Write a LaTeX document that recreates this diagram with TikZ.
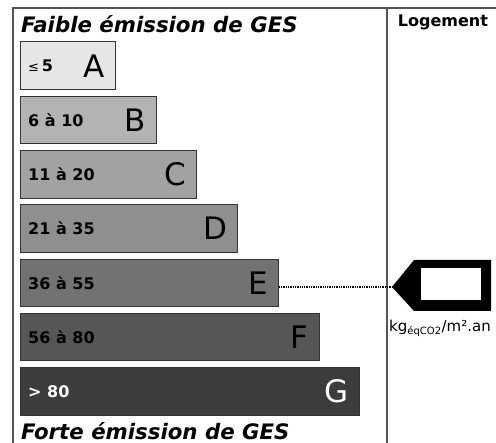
\documentclass[tikz,border=0pt]{standalone}
\usepackage{fontspec}
\setmainfont{DejaVu Sans}
\usetikzlibrary{positioning}
\definecolor{cA}{HTML}{E6E6E6}
\definecolor{cB}{HTML}{B3B3B3}
\definecolor{cC}{HTML}{A2A2A2}
\definecolor{cD}{HTML}{8F8F8F}
\definecolor{cE}{HTML}{727272}
\definecolor{cF}{HTML}{565656}
\definecolor{cG}{HTML}{3C3C3C}
\definecolor{edge}{HTML}{333333}
\definecolor{frame}{HTML}{555555}
\tikzset{
  bar/.style={draw=edge, line width=1pt, anchor=north west, minimum height=47.5pt, inner sep=0pt},
  rangelbl/.style={anchor=west, font=\fontsize{16}{16}\selectfont\bfseries, inner sep=0pt},
  letter/.style={anchor=east, font=\fontsize{31}{31}\selectfont, inner sep=0pt},
  title/.style={anchor=west, font=\fontsize{21.3}{21.3}\selectfont\bfseries\itshape, inner sep=0pt},
  frameline/.style={draw=frame, line width=1.3pt}
}
\begin{document}
\begin{tikzpicture}[x=1pt,y=-1pt]
\useasboundingbox (0,0) rectangle (496,443);
\fill[white] (0,0) rectangle (496,443);
% frame
\coordinate (tl) at (13,8);
\coordinate (tr) at (496,8);
\coordinate (bl) at (13,443);
\coordinate (dt) at (387,8);
\coordinate (db) at (387,443);
\draw[frameline] (bl) -- (tl) -- (tr);
\draw[frameline] (dt) -- (db);
% titles
\node[title] (top) at (21,24) {Faible émission de GES};
\node[title] (bot) at (21,431) {Forte émission de GES};
\node[anchor=center, font=\fontsize{16}{16}\selectfont\bfseries, inner sep=0pt] (log) at (443,22) {Logement};
% bars
\node[bar, fill=cA, minimum width=95pt] (barA) at (20,41.5) {};
\node[bar, fill=cB, minimum width=135.7pt] (barB) at (20,95.8) {};
\node[bar, fill=cC, minimum width=176.4pt] (barC) at (20,150.1) {};
\node[bar, fill=cD, minimum width=217.1pt] (barD) at (20,204.4) {};
\node[bar, fill=cE, minimum width=257.8pt] (barE) at (20,258.7) {};
\node[bar, fill=cF, minimum width=298.5pt] (barF) at (20,313) {};
\node[bar, fill=cG, minimum width=339.2pt] (barG) at (20,367.3) {};
% range labels
\node[rangelbl] (rA) at ([xshift=8pt]barA.west) {{\fontsize{13}{13}\selectfont\mdseries ≤}\,5};
\node[rangelbl] (rB) at ([xshift=8pt]barB.west) {6 à 10};
\node[rangelbl] (rC) at ([xshift=8pt]barC.west) {11 à 20};
\node[rangelbl] (rD) at ([xshift=8pt]barD.west) {21 à 35};
\node[rangelbl] (rE) at ([xshift=8pt]barE.west) {36 à 55};
\node[rangelbl] (rF) at ([xshift=8pt]barF.west) {56 à 80};
\node[rangelbl, text=white] (rG) at ([xshift=8pt]barG.west) {> 80};
% letters
\node[letter] (lA) at ([xshift=-11pt]barA.east) {A};
\node[letter] (lB) at ([xshift=-11pt]barB.east) {B};
\node[letter] (lC) at ([xshift=-11pt]barC.east) {C};
\node[letter] (lD) at ([xshift=-11pt]barD.east) {D};
\node[letter] (lE) at ([xshift=-11pt]barE.east) {E};
\node[letter] (lF) at ([xshift=-11pt]barF.east) {F};
\node[letter, text=white] (lG) at ([xshift=-11pt]barG.east) {G};
% indicator
\coordinate (tip) at (392,287);
\fill[black] (tip) -- (414,260) -- (491,260) -- (491,311) -- (414,311) -- cycle;
\fill[white] (421,268) rectangle (481,300);
\draw[densely dotted, line width=1.3pt] (barE.east |- tip) -- (tip);
\node[anchor=center, inner sep=0pt, font=\fontsize{15}{15}\selectfont] (unit) at (440,328) {kg\textsubscript{\fontsize{10}{10}\selectfont éqCO2}/m².an};
\end{tikzpicture}
\end{document}
